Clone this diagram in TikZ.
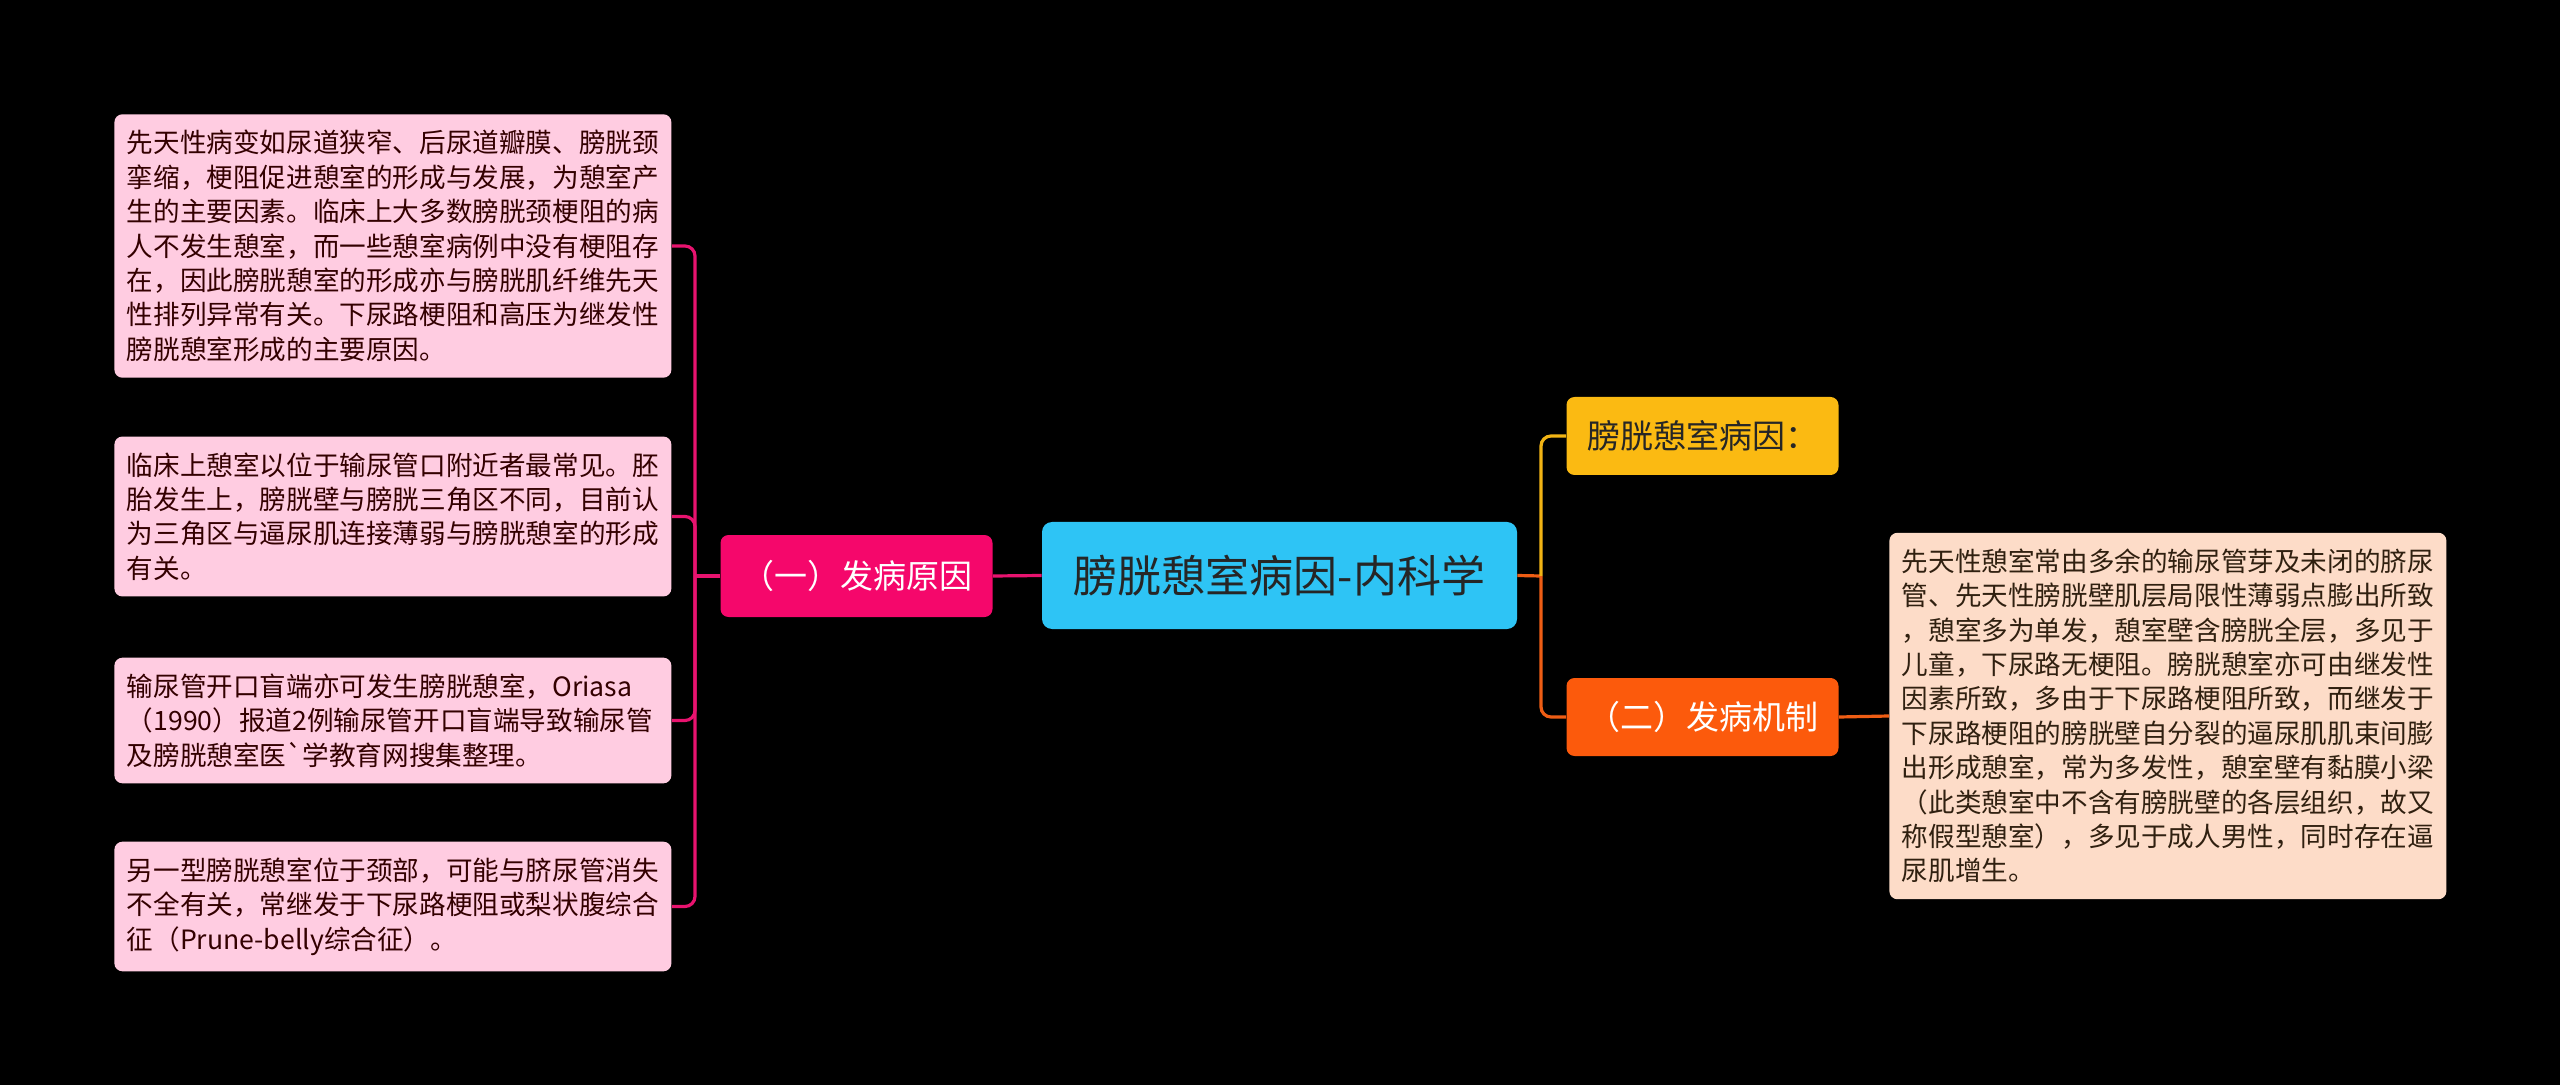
\documentclass[tikz,border=0pt]{standalone}
\usepackage{fontspec}
\setmainfont{Noto Sans CJK SC}[Ligatures=TeXOff]
\usetikzlibrary{positioning}

\definecolor{leafpink}{HTML}{FFCCE1}
\definecolor{leafpeach}{HTML}{FDDCC8}
\definecolor{hotpink}{HTML}{F5076B}
\definecolor{skyblue}{HTML}{2EC4F5}
\definecolor{amber}{HTML}{FBBA12}
\definecolor{tangerine}{HTML}{FC5A0C}
\definecolor{linepink}{HTML}{E8136F}
\definecolor{lineamber}{HTML}{F2B414}
\definecolor{lineorange}{HTML}{EE5D14}

\begin{document}
\begin{tikzpicture}[x=0.5pt,y=-0.5pt,
    leaf/.style={rounded corners=4pt, align=left, text width=266pt,
      inner xsep=6.25pt, inner ysep=8pt, font=\fontsize{13.3}{17.2}\selectfont},
    topic/.style={rounded corners=4pt, minimum width=136pt, minimum height=39pt,
      inner sep=0pt, font=\fontsize{16.5}{20}\selectfont},
    link/.style={line width=1.6pt, rounded corners=5pt}]
    % Background
    \fill[black] (0,0) rectangle (2560,1085);

    % Root
    \node[fill=skyblue, text=black!85, rounded corners=5pt, minimum width=237.5pt,
      minimum height=53.5pt, font=\fontsize{22}{26}\selectfont] (root) at (1279.5,575.5)
      {膀胱憩室病因-内科学};

    % Left branch
    \node[topic, fill=hotpink, text=white, minimum height=41pt] (cause) at (856.5,576)
      {（一）发病原因};
    \node[leaf, fill=leafpink, text=black!80!red, anchor=west] (c1) at (114,246)
      {先天性病变如尿道狭窄、后尿道瓣膜、膀胱颈\\
       挛缩，梗阻促进憩室的形成与发展，为憩室产\\
       生的主要因素。临床上大多数膀胱颈梗阻的病\\
       人不发生憩室，而一些憩室病例中没有梗阻存\\
       在，因此膀胱憩室的形成亦与膀胱肌纤维先天\\
       性排列异常有关。下尿路梗阻和高压为继发性\\
       膀胱憩室形成的主要原因。};
    \node[leaf, fill=leafpink, text=black!80!red, anchor=west] (c2) at (114,516.5)
      {临床上憩室以位于输尿管口附近者最常见。胚\\
       胎发生上，膀胱壁与膀胱三角区不同，目前认\\
       为三角区与逼尿肌连接薄弱与膀胱憩室的形成\\
       有关。};
    \node[leaf, fill=leafpink, text=black!80!red, anchor=west] (c3) at (114,720.5)
      {输尿管开口盲端亦可发生膀胱憩室，Oriasa\\
       （1990）报道2例输尿管开口盲端导致输尿管\\
       及膀胱憩室医\symbol{96}学教育网搜集整理。};
    \node[leaf, fill=leafpink, text=black!80!red, anchor=west] (c4) at (114,906.5)
      {另一型膀胱憩室位于颈部，可能与脐尿管消失\\
       不全有关，常继发于下尿路梗阻或梨状腹综合\\
       征（Prune-belly综合征）。};

    % Right branch
    \node[topic, fill=amber, text=black!85] (why) at (1702.5,436) {膀胱憩室病因：};
    \node[topic, fill=tangerine, text=white] (mech) at (1702.5,717) {（二）发病机制};
    \node[leaf, fill=leafpeach, text=black!75!brown, anchor=west] (m1) at (1889,716)
      {先天性憩室常由多余的输尿管芽及未闭的脐尿\\
       管、先天性膀胱壁肌层局限性薄弱点膨出所致\\
       ，憩室多为单发，憩室壁含膀胱全层，多见于\\
       儿童，下尿路无梗阻。膀胱憩室亦可由继发性\\
       因素所致，多由于下尿路梗阻所致，而继发于\\
       下尿路梗阻的膀胱壁自分裂的逼尿肌肌束间膨\\
       出形成憩室，常为多发性，憩室壁有黏膜小梁\\
       （此类憩室中不含有膀胱壁的各层组织，故又\\
       称假型憩室），多见于成人男性，同时存在逼\\
       尿肌增生。};

    % Connectors
    \coordinate (lj) at (695,576);
    \coordinate (rj) at (1541,576);
    \draw[link, linepink] (root.west) -- (cause.east);
    \draw[link, linepink] (cause.west) -- (lj);
    \foreach \b in {c1,c2,c3,c4}
        \draw[link, linepink] (lj) |- (\b.east);
    \draw[link, lineorange] (root.east) -- (rj);
    \draw[link, lineamber] (rj) |- (why.west);
    \draw[link, lineorange] (rj) |- (mech.west);
    \draw[link, lineorange] (mech.east) -- (m1.west);
\end{tikzpicture}
\end{document}
